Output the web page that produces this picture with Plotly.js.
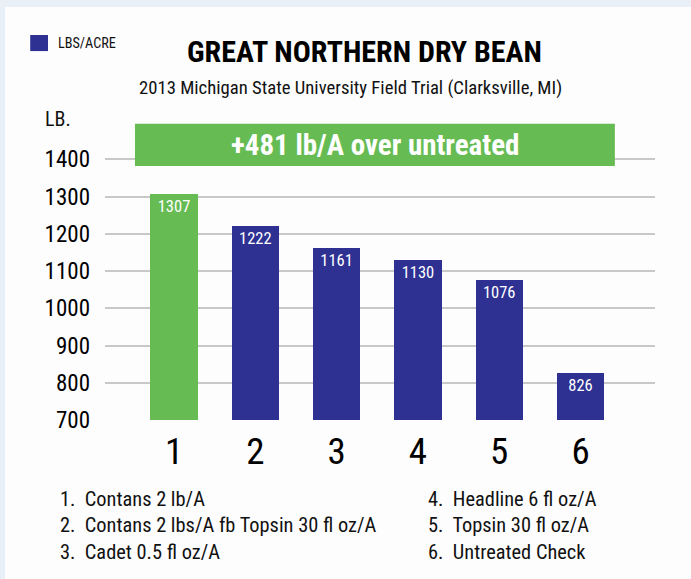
<!DOCTYPE html>
<html>
<head>
<meta charset="utf-8">
<script src="https://cdn.plot.ly/plotly-3.0.1.min.js"></script>
<style>
  html, body { margin:0; padding:0; background:#e9eff6; width:691px; height:579px; overflow:hidden; }
  #chart { position:absolute; left:5px; top:7px; width:686px; height:572px; }
</style>
</head>
<body>
<div id="chart"></div>
<script>
const categories = [1, 2, 3, 4, 5, 6];
const tickLabels = ['1', '2', '3', '4', '5', '6'];
const yields = [1307, 1222, 1161, 1130, 1076, 826];
const barColors = ['#66bc53', '#2e3192', '#2e3192', '#2e3192', '#2e3192', '#2e3192'];
const treatments = [
  '1.  Contans 2 lb/A',
  '2.  Contans 2 lbs/A fb Topsin 30 fl oz/A',
  '3.  Cadet 0.5 fl oz/A',
  '4.  Headline 6 fl oz/A',
  '5.  Topsin 30 fl oz/A',
  '6.  Untreated Check'
];
const yTicks = [700, 800, 900, 1000, 1100, 1200, 1300, 1400];
const bannerText = '+481 lb/A over untreated';
const titleText = 'GREAT NORTHERN DRY BEAN';
const subtitleText = '2013 Michigan State University Field Trial (Clarksville, MI)';
const legendText = 'LBS/ACRE';
const yUnitText = 'LB.';

const FONT = '"Roboto Condensed", "Liberation Sans Narrow", "DejaVu Sans Condensed", sans-serif';

const trace = {
  type: 'bar',
  x: categories,
  y: yields,
  base: 0,
  width: 0.58,
  marker: { color: barColors },
  text: yields.map(String),
  textposition: 'inside',
  insidetextanchor: 'end',
  textangle: 0,
  constraintext: 'none',
  textfont: { family: FONT, size: 16.5, color: '#ffffff' },
  hoverinfo: 'skip',
  showlegend: false
};

const annotations = [];
annotations.push({ xref: 'paper', yref: 'paper', x: 0.447, y: 1.114, text: subtitleText, showarrow: false,
  font: { family: FONT, size: 18.7, color: '#111' }, xanchor: 'center', yanchor: 'middle' });
annotations.push({ xref: 'paper', yref: 'paper', x: 0.471, y: 1.235, text: '<b>' + titleText + '</b>', showarrow: false,
  font: { family: FONT, size: 30, color: '#000' }, xanchor: 'center', yanchor: 'middle' });
annotations.push({ xref: 'paper', yref: 'paper', x: -0.089, y: 1.265, text: legendText, showarrow: false,
  font: { family: FONT, size: 14.2, color: '#111' }, xanchor: 'left', yanchor: 'middle' });
annotations.push({ xref: 'paper', yref: 'paper', x: -0.112, y: 1.010, text: yUnitText, showarrow: false,
  font: { family: FONT, size: 20, color: '#111' }, xanchor: 'left', yanchor: 'middle' });
annotations.push({ xref: 'paper', yref: 'y', x: 0.491, y: 1438, text: '<b>' + bannerText + '</b>', showarrow: false,
  font: { family: FONT, size: 29, color: '#ffffff' }, xanchor: 'center', yanchor: 'middle' });
const colX = [-0.085, 0.583];
const rowY = [-0.265, -0.352, -0.443];
treatments.forEach((t, i) => {
  annotations.push({ xref: 'paper', yref: 'paper', x: colX[Math.floor(i / 3)], y: rowY[i % 3], text: t,
    showarrow: false, font: { family: FONT, size: 20.4, color: '#111' }, xanchor: 'left', yanchor: 'middle' });
});

const layout = {
  width: 686, height: 572,
  margin: { l: 100, r: 36, t: 115, b: 159 },
  paper_bgcolor: '#fdfdfd',
  plot_bgcolor: 'rgba(0,0,0,0)',
  showlegend: false,
  bargap: 0,
  xaxis: {
    range: [0.151, 6.916],
    tickmode: 'array', tickvals: categories, ticktext: tickLabels,
    showgrid: false, zeroline: false, showline: false, ticks: '',
    tickfont: { family: FONT, size: 37, color: '#000' },
    ticklabelstandoff: 6,
    fixedrange: true
  },
  yaxis: {
    range: [700, 1500],
    tickmode: 'array', tickvals: yTicks,
    showgrid: true, gridcolor: '#c8c8c8', gridwidth: 2,
    zeroline: false, showline: false, ticks: '',
    tickfont: { family: FONT, size: 23, color: '#000' },
    ticklabelstandoff: 14,
    fixedrange: true
  },
  shapes: [
    { type: 'rect', xref: 'paper', yref: 'y', x0: 0.0545, x1: 0.927, y0: 1382, y1: 1495,
      fillcolor: '#66bc53', line: { width: 0 }, layer: 'above' },
    { type: 'rect', xref: 'paper', yref: 'paper', x0: -0.136, x1: -0.1036, y0: 1.238, y1: 1.292,
      fillcolor: '#2e3192', line: { width: 0 } }
  ],
  annotations: annotations
};

Plotly.newPlot('chart', [trace], layout, { displayModeBar: false, staticPlot: true });
</script>
</body>
</html>
